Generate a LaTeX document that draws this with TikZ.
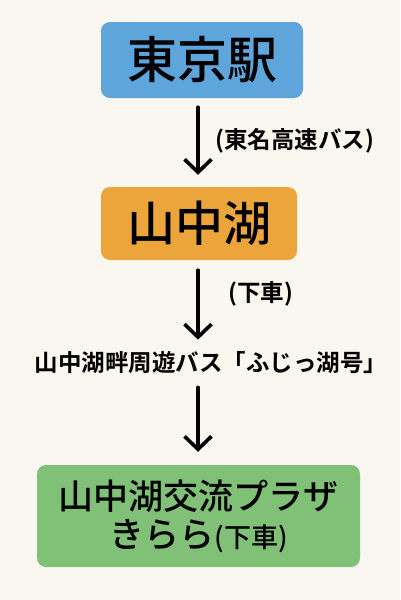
\documentclass[tikz,border=0pt]{standalone}
\usepackage{fontspec}
\IfFontExistsTF{Noto Sans CJK JP Medium}
  {\setmainfont{Noto Sans CJK JP Medium}[BoldFont=Noto Sans CJK JP Bold]}
  {\setmainfont{Noto Sans CJK JP}}
\usetikzlibrary{arrows.meta}
\definecolor{bg}{HTML}{FAF7F0}
\definecolor{boxblue}{HTML}{5DA5DB}
\definecolor{boxorange}{HTML}{ECA53B}
\definecolor{boxgreen}{HTML}{80C077}
\tikzset{
  stationbox/.style={rectangle, rounded corners=9pt, inner sep=0pt, draw=none, text=black},
  flowarrow/.style={line width=3.6pt, line cap=round, line join=round, -{Straight Barb[length=13pt,width=27pt,line width=3.6pt]}},
  lbl/.style={inner sep=0pt, text=black, font=\bfseries\fontsize{23.5}{28}\selectfont}
}
\begin{document}
\begin{tikzpicture}[x=1pt,y=-1pt]
\fill[bg] (0,0) rectangle (400,600);
\useasboundingbox (0,0) rectangle (400,600);
\coordinate (ax) at (198,0);
\node[stationbox, fill=boxblue, minimum width=202pt, minimum height=76pt, font=\fontsize{50}{54}\selectfont] (tokyo) at (202,60) {東京駅};
\node[stationbox, fill=boxorange, minimum width=196pt, minimum height=73pt, font=\fontsize{48}{52}\selectfont] (yama) at (199,223.5) {山中湖};
\node[lbl, anchor=west] (l1) at (215,141) {(東名高速バス)};
\node[lbl, anchor=west] (l2) at (228,294) {(下車)};
\node[lbl] (bus) at (211,363) {山中湖畔周遊バス「ふじっ湖号」};
\node[stationbox, fill=boxgreen, minimum width=323pt, minimum height=102pt, align=center, font=\fontsize{35}{40}\selectfont] (kirara) at (198.5,516) {山中湖交流プラザ\\[-2pt]きらら{\fontsize{27}{30}\selectfont(下車)}};
\draw[flowarrow] (tokyo.south -| ax) ++(0,9) -- ([yshift=12pt]yama.north -| ax);
\draw[flowarrow] (yama.south -| ax) ++(0,10) -- ([yshift=12pt]bus.north -| ax);
\draw[flowarrow] (bus.south -| ax) ++(0,13) -- ([yshift=13pt]kirara.north -| ax);
\end{tikzpicture}
\end{document}
